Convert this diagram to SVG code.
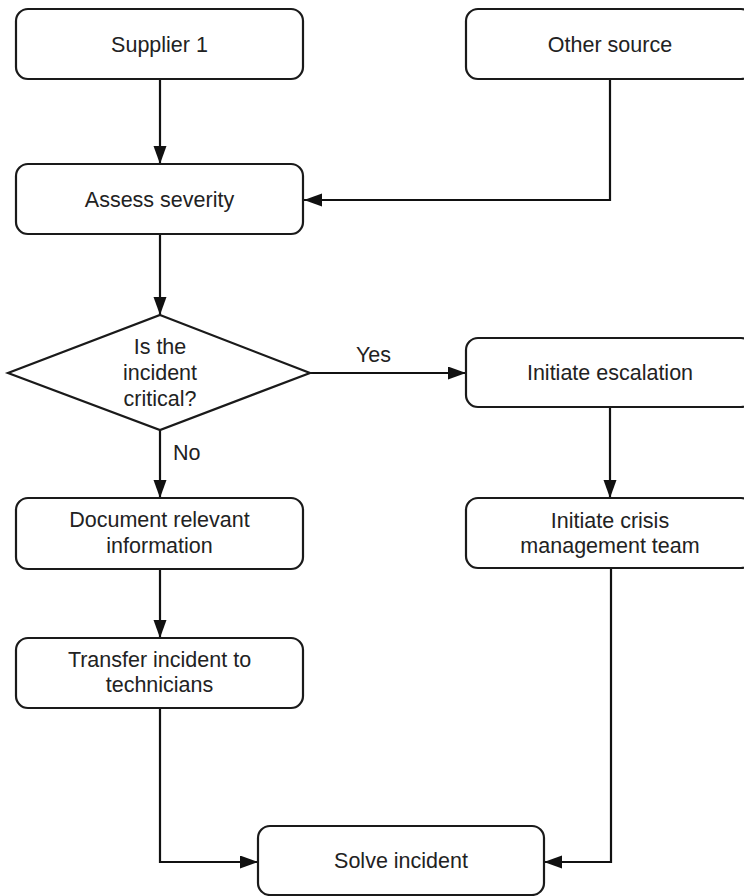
<svg xmlns="http://www.w3.org/2000/svg" width="744" height="896" viewBox="0 0 744 896">
<defs>
<style>
.box{fill:#ffffff;stroke:#1a1a1a;stroke-width:2.2}
.lbl{font-family:"Liberation Sans",Arial,sans-serif;font-size:21.5px;fill:#222;text-anchor:middle}
.el{font-family:"Liberation Sans",Arial,sans-serif;font-size:21.5px;fill:#222}
.conn{fill:none;stroke:#111;stroke-width:2.2}
</style>
<marker id="arr" markerUnits="userSpaceOnUse" markerWidth="19" markerHeight="14" refX="18" refY="6.5" orient="auto">
<path d="M0,0 L18,6.5 L0,13 z" fill="#111"/>
</marker>
</defs>
<rect width="744" height="896" fill="#ffffff"/>
<g id="connectors">
<path class="conn" d="M160,79 L160,164" marker-end="url(#arr)"/>
<path class="conn" d="M610,79 L610,200 L304,200" marker-end="url(#arr)"/>
<path class="conn" d="M160,234 L160,315" marker-end="url(#arr)"/>
<path class="conn" d="M310,373 L466,373" marker-end="url(#arr)"/>
<text class="el" x="356" y="362">Yes</text>
<path class="conn" d="M160,430 L160,498" marker-end="url(#arr)"/>
<text class="el" x="173" y="460">No</text>
<path class="conn" d="M610,407 L610,498" marker-end="url(#arr)"/>
<path class="conn" d="M160,569 L160,638" marker-end="url(#arr)"/>
<path class="conn" d="M160,708 L160,862 L258,862" marker-end="url(#arr)"/>
<path class="conn" d="M611,568 L611,862 L544,862" marker-end="url(#arr)"/>
</g>
<g id="supplier1">
<rect class="box" x="16" y="9" width="287" height="70" rx="12"/>
<text class="lbl" x="159.5" y="52">Supplier 1</text>
</g>
<g id="other-source">
<rect class="box" x="466" y="9" width="287" height="70" rx="12"/>
<text class="lbl" x="610" y="52">Other source</text>
</g>
<g id="assess-severity">
<rect class="box" x="16" y="164" width="287" height="70" rx="12"/>
<text class="lbl" x="159.5" y="207">Assess severity</text>
</g>
<g id="decision">
<polygon class="box" points="160,315 310,373 160,430 8,373"/>
<text class="lbl" x="160" y="354">Is the</text>
<text class="lbl" x="160" y="380">incident</text>
<text class="lbl" x="160" y="406">critical?</text>
</g>
<g id="initiate-escalation">
<rect class="box" x="466" y="338" width="287" height="69" rx="12"/>
<text class="lbl" x="610" y="380">Initiate escalation</text>
</g>
<g id="document">
<rect class="box" x="16" y="498" width="287" height="71" rx="12"/>
<text class="lbl" x="159.5" y="527">Document relevant</text>
<text class="lbl" x="159.5" y="553">information</text>
</g>
<g id="crisis-team">
<rect class="box" x="466" y="498" width="287" height="70" rx="12"/>
<text class="lbl" x="610" y="528">Initiate crisis</text>
<text class="lbl" x="610" y="553">management team</text>
</g>
<g id="transfer">
<rect class="box" x="16" y="638" width="287" height="70" rx="12"/>
<text class="lbl" x="159.5" y="667">Transfer incident to</text>
<text class="lbl" x="159.5" y="692">technicians</text>
</g>
<g id="solve">
<rect class="box" x="258" y="826" width="286" height="69" rx="12"/>
<text class="lbl" x="401" y="868">Solve incident</text>
</g>
</svg>
